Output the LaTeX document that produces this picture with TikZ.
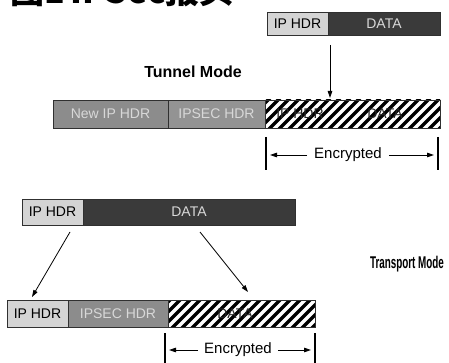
\documentclass[tikz,border=0pt]{standalone}
\usepackage{fontspec}
\setmainfont{Liberation Sans}
\newfontfamily\cjk{Noto Sans CJK SC}
\usetikzlibrary{arrows.meta,calc}
\definecolor{lightseg}{HTML}{D4D4D4}
\definecolor{midseg}{HTML}{8C8C8C}
\definecolor{midsegb}{HTML}{939393}
\definecolor{darkseg}{HTML}{3A3A3A}
\definecolor{segtext}{HTML}{D8D8D8}
\definecolor{segline}{HTML}{303030}
\begin{document}
\begin{tikzpicture}[x=1pt,y=-1pt,
  seg/.style={draw=segline,line width=0.9pt,rectangle,inner sep=0pt,
    font=\fontsize{14}{14}\selectfont},
  lightbox/.style={seg,fill=lightseg,text=black},
  midbox/.style={seg,fill=midseg,text=segtext},
  darkbox/.style={seg,fill=darkseg,text=segtext},
  hatchbox/.style={seg,fill=white,text=black,
    path picture={
      \foreach \i in {-30,...,40}{
        \draw[line width=3.4pt,black]
          ($(path picture bounding box.south west)+(\i*10pt-40pt,-5pt)$) -- ++(50pt,50pt);
      }}},
  hatchtext/.style={font=\fontsize{14}{14}\selectfont,inner sep=0pt,text=black!85},
  modelabel/.style={font=\bfseries\fontsize{16}{16}\selectfont},
  enc/.style={font=\fontsize{15}{15}\selectfont,inner sep=1pt},
  arr/.style={line width=0.8pt,-{Triangle[length=7pt,width=4.5pt]}},
  brk/.style={line width=1.1pt}
]
\useasboundingbox (0,0) rectangle (449,363);
\clip (0,0) rectangle (449,363);

% title (cut off at top in the reference)
\node[anchor=base west,inner sep=0pt,font=\cjk\bfseries\fontsize{34}{34}\selectfont] (title) at (10,4) {图1\,IPSec报头};

% top packet (tunnel)
\node[lightbox,minimum width=61pt,minimum height=23pt] (tip) at (297.5,23.5) {IP HDR};
\node[darkbox,minimum width=112pt,minimum height=23pt] (tdata) at (384,23.5) {DATA};

\node[modelabel] (tunnel) at (193,72) {Tunnel Mode};

% tunnel bar
\node[midbox,minimum width=115pt,minimum height=28pt] (tnew) at (110.5,114) {New IP HDR};
\node[midbox,fill=midsegb,minimum width=97pt,minimum height=28pt] (tipsec) at (216.5,114) {IPSEC HDR};
\node[hatchbox,minimum width=175pt,minimum height=28pt] (thatch) at (352.5,114) {};
\node[hatchtext] (thip) at (300,114) {IP HDR};
\node[hatchtext] (thdata) at (385,114) {DATA};

\coordinate (ta) at (330,45);
\coordinate (tb) at (330,98);
\draw[arr] (ta) -- (tb);

% tunnel encrypted bracket
\coordinate (tl1) at (266,137); \coordinate (tl2) at (266,170);
\coordinate (tr1) at (438,137); \coordinate (tr2) at (438,170);
\draw[brk] (tl1) -- (tl2);
\draw[brk] (tr1) -- (tr2);
\node[enc] (tenc) at (348,155) {Encrypted};
\coordinate (tla) at (270,155);
\coordinate (tra) at (434,155);
\draw[arr] ([xshift=-6pt]tenc.west) -- (tla);
\draw[arr] ([xshift=6pt]tenc.east) -- (tra);

% transport top packet
\node[lightbox,minimum width=61pt,minimum height=26pt] (pip) at (52.5,212) {IP HDR};
\node[darkbox,minimum width=212pt,minimum height=26pt] (pdata) at (189,212) {DATA};

\node[font=\bfseries\fontsize{17}{17}\selectfont,inner sep=0pt] (transport) at (407,264) {\scalebox{0.58}[1]{Transport Mode}};

% transport bar
\node[lightbox,minimum width=61pt,minimum height=27pt] (bip) at (37.5,313.5) {IP HDR};
\node[midbox,minimum width=100pt,minimum height=27pt] (bipsec) at (118,313.5) {IPSEC HDR};
\node[hatchbox,minimum width=147pt,minimum height=27pt] (bhatch) at (241.5,313.5) {};
\node[hatchtext] (bhdata) at (235,313.5) {DATA};

\coordinate (pa1) at (70,232); \coordinate (pb1) at (32,297);
\coordinate (pa2) at (200,232); \coordinate (pb2) at (248,292);
\draw[arr] (pa1) -- (pb1);
\draw[arr] (pa2) -- (pb2);

% transport encrypted bracket
\coordinate (bl1) at (165,333); \coordinate (bl2) at (165,363);
\coordinate (br1) at (315,333); \coordinate (br2) at (315,363);
\draw[brk] (bl1) -- (bl2);
\draw[brk] (br1) -- (br2);
\node[enc] (benc) at (238,350) {Encrypted};
\coordinate (bla) at (169,350);
\coordinate (bra) at (311,350);
\draw[arr] ([xshift=-5pt]benc.west) -- (bla);
\draw[arr] ([xshift=5pt]benc.east) -- (bra);
\end{tikzpicture}
\end{document}
